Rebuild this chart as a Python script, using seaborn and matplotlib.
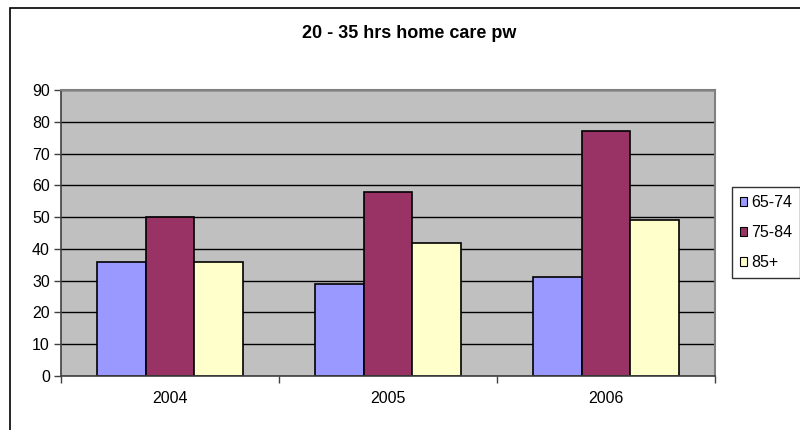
import matplotlib
matplotlib.use("Agg")
import matplotlib.pyplot as plt
from matplotlib.patches import Rectangle
import pandas as pd
import seaborn as sns

# Weekly home-care hours (20-35 hrs) by age band
years = ["2004", "2005", "2006"]
age_groups = ["65-74", "75-84", "85+"]
values_65_74 = [36, 29, 31]
values_75_84 = [50, 58, 77]
values_85_plus = [36, 42, 49]
y_ticks = [0, 10, 20, 30, 40, 50, 60, 70, 80, 90]
colors = ["#9999FF", "#993366", "#FFFFCC"]

rows = []
for group, vals in zip(age_groups, [values_65_74, values_75_84, values_85_plus]):
    for yr, v in zip(years, vals):
        rows.append({"year": yr, "age": group, "value": v})
df = pd.DataFrame(rows)

sns.set_theme(style="white")
plt.rcParams["font.family"] = ["Liberation Sans", "DejaVu Sans"]
plt.rcParams["text.color"] = "black"
plt.rcParams["xtick.color"] = "black"
plt.rcParams["ytick.color"] = "black"

W, H = 800, 430
fig = plt.figure(figsize=(W / 100, H / 100), dpi=100)
fig.patch.set_facecolor("white")

# plot area in pixel coordinates
left, right, top, bottom = 61, 715, 90, 376
ax = fig.add_axes([left / W, 1 - bottom / H, (right - left) / W, (bottom - top) / H])
ax.set_facecolor("#C0C0C0")

sns.barplot(data=df, x="year", y="value", hue="age", hue_order=age_groups,
            palette=colors, width=0.67, gap=0, edgecolor="black",
            linewidth=1.2, saturation=1, ax=ax)

ax.set_xlim(-0.5, 2.5)
ax.set_ylim(0, 90)
ax.set_yticks(y_ticks)
ax.set_axisbelow(True)
ax.yaxis.grid(True, color="black", linewidth=1)
ax.xaxis.grid(False)
ax.set_xlabel("")
ax.set_ylabel("")

tick_size = 11.5
ax.tick_params(axis="y", which="major", direction="out", length=5, width=1,
               labelsize=tick_size, pad=3, left=True, color="#404040")
ax.tick_params(axis="x", which="major", length=0, labelsize=tick_size, pad=11)
ax.set_xticks([-0.5, 0.5, 1.5, 2.5], minor=True)
ax.tick_params(axis="x", which="minor", direction="out", length=5, width=1,
               bottom=True, color="#404040")

for side in ["left", "bottom"]:
    ax.spines[side].set_color("#404040")
    ax.spines[side].set_linewidth(1.2)
for side in ["top", "right"]:
    ax.spines[side].set_color("#808080")
    ax.spines[side].set_linewidth(1.5)

handles, labels = ax.get_legend_handles_labels()
if ax.legend_:
    ax.legend_.remove()
leg = fig.legend(handles, labels, loc="upper left",
                 bbox_to_anchor=(732 / W, 1 - 187 / H),
                 frameon=True, fancybox=False, fontsize=tick_size,
                 handlelength=0.45, handleheight=0.45, handletextpad=0.25,
                 labelspacing=0.95, borderpad=0.5, borderaxespad=0)
leg.get_frame().set_edgecolor("black")
leg.get_frame().set_linewidth(1)
for p in leg.get_patches():
    p.set_edgecolor("black")
    p.set_linewidth(0.8)

fig.text(409 / W, 1 - 33 / H, "20 - 35 hrs home care pw", ha="center",
         va="center", fontsize=13, fontweight="bold")

# chart-area border
fig.patches.append(Rectangle((9.5 / W, -0.1), 1.2, 1.1 - 7.5 / H,
                             transform=fig.transFigure, fill=False,
                             edgecolor="black", linewidth=1.2))

fig.savefig("out.png", dpi=100, facecolor="white")
